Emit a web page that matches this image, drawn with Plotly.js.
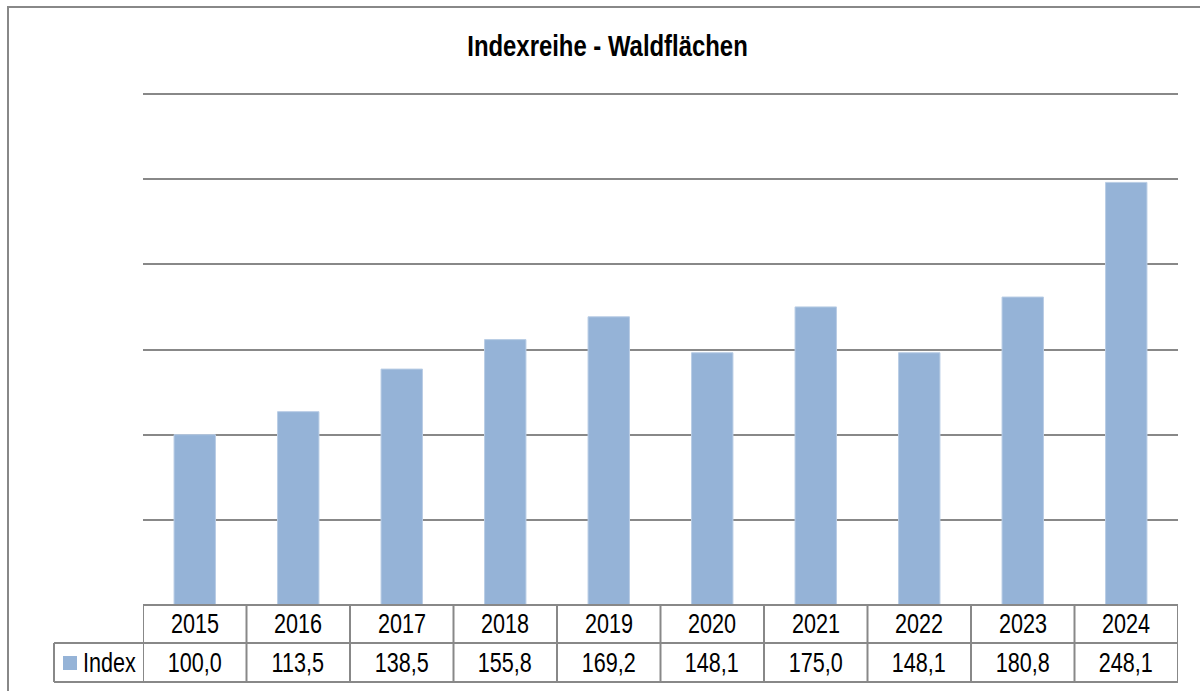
<!DOCTYPE html>
<html>
<head>
<meta charset="utf-8">
<script src="https://cdn.plot.ly/plotly-3.0.1.min.js"></script>
<style>
  html, body { margin: 0; padding: 0; background: #fff; }
  #chart { width: 1200px; height: 691px; }
</style>
</head>
<body>
<div id="chart"></div>
<script>
const chartTitle = 'Indexreihe - Waldflächen';
const seriesName = 'Index';
const years = ['2015', '2016', '2017', '2018', '2019', '2020', '2021', '2022', '2023', '2024'];
const indexValues = [100.0, 113.5, 138.5, 155.8, 169.2, 148.1, 175.0, 148.1, 180.8, 248.1];

const FONT = '"Liberation Sans", Arial, sans-serif';
const NARROW_TITLE = 0.81;   // emulate Arial Narrow by horizontal compression
const NARROW_TABLE = 0.80;
const barColor = '#95B3D7';
const lineColor = '#888888';

// Layout geometry (pixels)
const W = 1200, H = 691;
const L = 143, R = 22, T = 94, B = 86;
const plotW = W - L - R, plotH = H - T - B;
const px2x = p => (p - L) / plotW;              // pixel x -> paper x
const px2y = p => (H - B - p) / plotH;          // pixel y -> paper y

const row1Bottom = px2y(643);
const row2Bottom = px2y(682);
const legendLeft = px2x(54);
const yMax = 300;

const shapes = [];
const n = years.length;
// top gridline (at the range edge, drawn unclipped)
shapes.push({type: 'line', xref: 'paper', yref: 'paper', x0: 0, x1: 1, y0: 1, y1: 1, line: {color: lineColor, width: 2}});
// vertical table lines
for (let i = 0; i <= n; i++) {
  shapes.push({type: 'line', xref: 'x', yref: 'paper', x0: i - 0.5, x1: i - 0.5, y0: 0, y1: row2Bottom,
    line: {color: lineColor, width: 2}});
}
// horizontal table lines
shapes.push({type: 'line', xref: 'x', yref: 'paper', x0: -0.5, x1: n - 0.5, y0: 0, y1: 0, line: {color: lineColor, width: 2}});
shapes.push({type: 'line', xref: 'paper', yref: 'paper', x0: legendLeft, x1: 1, y0: row1Bottom, y1: row1Bottom, line: {color: lineColor, width: 2}});
shapes.push({type: 'line', xref: 'paper', yref: 'paper', x0: legendLeft, x1: 1, y0: row2Bottom, y1: row2Bottom, line: {color: lineColor, width: 2}});
shapes.push({type: 'line', xref: 'paper', yref: 'paper', x0: legendLeft, x1: legendLeft, y0: row1Bottom, y1: row2Bottom, line: {color: lineColor, width: 2}});
// legend key square
shapes.push({type: 'rect', xref: 'paper', yref: 'paper', x0: px2x(63), x1: px2x(77), y0: px2y(656), y1: px2y(670),
  fillcolor: barColor, line: {width: 0}});
// outer chart border
shapes.push({type: 'rect', xref: 'paper', yref: 'paper', x0: px2x(8), x1: px2x(1205), y0: px2y(7), y1: px2y(700),
  fillcolor: 'rgba(0,0,0,0)', line: {color: lineColor, width: 2}});

const annotations = [];
const fmt = v => v.toFixed(1).replace('.', ',');
const tableFont = {family: FONT, size: 27, color: '#000'};
years.forEach((yr, i) => {
  annotations.push({xref: 'x', yref: 'paper', x: i, y: (0 + row1Bottom) / 2, text: yr, showarrow: false,
    xanchor: 'center', yanchor: 'middle', font: tableFont});
  annotations.push({xref: 'x', yref: 'paper', x: i, y: (row1Bottom + row2Bottom) / 2, text: fmt(indexValues[i]), showarrow: false,
    xanchor: 'center', yanchor: 'middle', font: tableFont});
});
annotations.push({xref: 'paper', yref: 'paper', x: px2x(82), y: (row1Bottom + row2Bottom) / 2, text: seriesName, showarrow: false,
  xanchor: 'left', yanchor: 'middle', borderpad: 0, font: tableFont});

const trace = {
  type: 'bar',
  name: seriesName,
  x: years,
  y: indexValues,
  marker: {color: barColor, line: {color: '#B9CDE5', width: 1}},
  hoverinfo: 'skip'
};

const layout = {
  width: W, height: H,
  margin: {l: L, r: R, t: T, b: B, pad: 0},
  paper_bgcolor: '#ffffff',
  plot_bgcolor: '#ffffff',
  showlegend: false,
  bargap: 0.6,
  title: {text: '<b>' + chartTitle + '</b>', xref: 'container', yref: 'container', x: 607.5 / W, y: 1 - 46 / H,
    xanchor: 'center', yanchor: 'middle', font: {family: FONT, size: 29.5, color: '#000'}},
  xaxis: {type: 'category', range: [-0.5, n - 0.5], showticklabels: false, showgrid: false, zeroline: false,
    showline: false, ticks: '', fixedrange: true},
  yaxis: {range: [0, yMax], dtick: 50, tick0: 0, showticklabels: false, showgrid: true, gridcolor: lineColor, gridwidth: 2,
    zeroline: false, showline: false, ticks: '', fixedrange: true},
  shapes: shapes,
  annotations: annotations
};

Plotly.newPlot('chart', [trace], layout, {displayModeBar: false, staticPlot: true}).then(gd => {
  const texts = gd.querySelectorAll('text.gtitle, text.annotation-text');
  texts.forEach(t => {
    const bb = t.getBBox();
    const isTitle = t.classList.contains('gtitle');
    const leftAligned = t.textContent === seriesName;
    const cx = leftAligned ? bb.x : bb.x + bb.width / 2;
    const s = isTitle ? NARROW_TITLE : NARROW_TABLE;
    const prev = t.getAttribute('transform') || '';
    t.setAttribute('transform', `translate(${cx},0) scale(${s},1) translate(${-cx},0) ${prev}`);
  });
});
</script>
</body>
</html>
